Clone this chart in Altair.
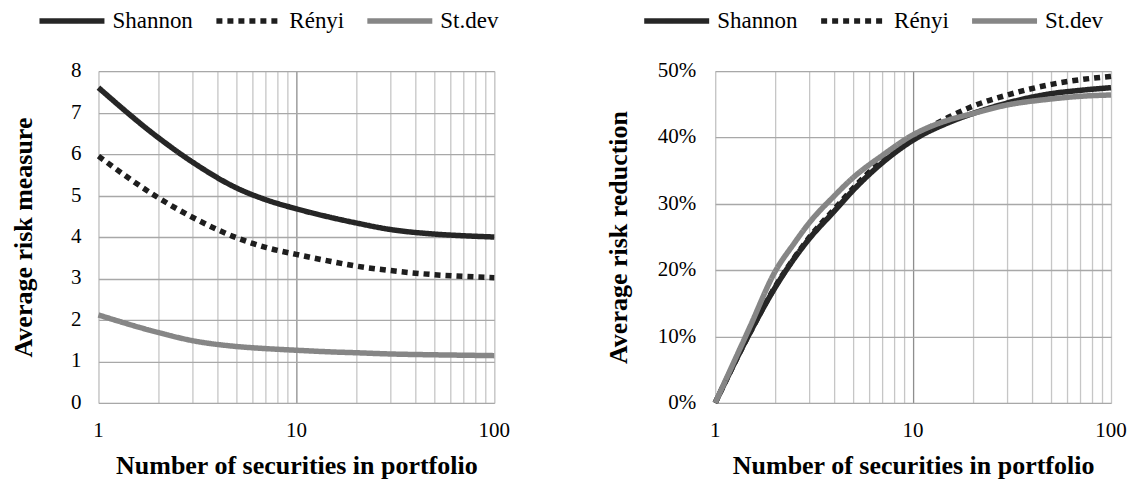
import altair as alt
import pandas as pd

# ---- data ----
series_names = ["Shannon", "Rényi", "St.dev"]
series_colors = ["#262626", "#1e1e1e", "#868686"]
series_dash = [[1, 0], [6, 5], [1, 0]]
draw_order = ["Rényi", "Shannon", "St.dev"]

left_n = [1, 2, 3, 5, 7, 10, 15, 20, 30, 50, 70, 100]
left_shannon = [7.60, 6.40, 5.80, 5.18, 4.90, 4.68, 4.47, 4.34, 4.18, 4.07, 4.03, 4.00]
left_renyi = [5.95, 4.95, 4.47, 3.98, 3.75, 3.58, 3.41, 3.30, 3.19, 3.09, 3.05, 3.02]
left_stdev = [2.12, 1.70, 1.50, 1.36, 1.31, 1.27, 1.23, 1.21, 1.18, 1.16, 1.15, 1.14]

right_n = [1, 1.5, 2, 2.5, 3, 4, 5, 7, 10, 15, 20, 30, 50, 70, 100]
right_shannon = [0, .106, .173, .217, .248, .289, .321, .362, .396, .422, .436, .452, .466, .471, .475]
right_renyi = [0, .106, .174, .218, .250, .292, .324, .366, .400, .430, .447, .464, .480, .487, .492]
right_stdev = [0, .115, .197, .240, .272, .312, .340, .373, .404, .426, .436, .449, .458, .462, .464]

x_grid_values = [1, 2, 3, 4, 5, 6, 7, 8, 9, 10, 20, 30, 40, 50, 60, 70, 80, 90, 100]
x_label_values = [1, 10, 100]
left_y_values = [0, 1, 2, 3, 4, 5, 6, 7, 8]
right_y_values = [0, 0.1, 0.2, 0.3, 0.4, 0.5]

x_title = "Number of securities in portfolio"
left_y_title = "Average risk measure"
right_y_title = "Average risk reduction"

FONT = "Liberation Serif"
W, H = 396, 332


def long_frame(n, shannon, renyi, stdev):
    vals = {"Shannon": shannon, "Rényi": renyi, "St.dev": stdev}
    rows = []
    for s in draw_order:
        for xi, yi in zip(n, vals[s]):
            rows.append({"n": xi, "value": yi, "series": s})
    return pd.DataFrame(rows)


def panel(df, y_title, y_values, y_domain, y_format, legend_x, title_pad, label_off):
    legend = alt.Legend(
        title=None, orient="none", direction="horizontal",
        legendX=legend_x, legendY=-62, padding=0, clipHeight=24,
        symbolType="stroke", symbolSize=4225, symbolStrokeWidth=5.5,
        labelFont=FONT, labelFontSize=23, labelColor="#000000",
        labelOffset=5, columnPadding=20, symbolOffset=0,
    )
    x_scale = alt.Scale(type="log", domain=[1, 100], nice=False)
    y_scale = alt.Scale(domain=y_domain, nice=False)

    lines = alt.Chart(df).mark_line(
        strokeWidth=5.5, interpolate="monotone", strokeCap="butt"
    ).encode(
        x=alt.X("n:Q", scale=x_scale,
                axis=alt.Axis(values=x_grid_values, labels=False,
                              title=x_title, titleFont=FONT, titleFontSize=26,
                              titleFontWeight="bold", titleColor="#000000",
                              titlePadding=50, ticks=False, domain=False,
                              gridColor={"condition": {"test": "datum.value == 10", "value": "#8e8e8e"},
                                         "value": "#c6c6c6"},
                              gridWidth=1.3)),
        y=alt.Y("value:Q", scale=y_scale,
                axis=alt.Axis(values=y_values, labels=False,
                              title=y_title, titleFont=FONT, titleFontSize=26,
                              titleFontWeight="bold", titleColor="#000000",
                              titlePadding=title_pad, ticks=False, domain=False,
                              gridColor="#a8a8a8", gridWidth=1.3)),
        color=alt.Color("series:N", sort=series_names,
                        scale=alt.Scale(domain=series_names, range=series_colors),
                        legend=legend),
        strokeDash=alt.StrokeDash("series:N", sort=series_names,
                                  scale=alt.Scale(domain=series_names, range=series_dash),
                                  legend=legend),
    )

    x_labels = alt.Chart(pd.DataFrame({"n": x_label_values})).mark_text(
        font=FONT, fontSize=21, color="#000000", baseline="top", align="center"
    ).encode(
        x=alt.X("n:Q", scale=x_scale),
        y=alt.value(H + 17),
        text=alt.Text("n:Q", format="d"),
    )

    y_labels = alt.Chart(pd.DataFrame({"value": y_values})).mark_text(
        font=FONT, fontSize=21, color="#000000", baseline="middle", align="right"
    ).encode(
        x=alt.value(label_off),
        y=alt.Y("value:Q", scale=y_scale),
        text=alt.Text("value:Q", format=y_format),
    )

    return alt.layer(lines, x_labels, y_labels).properties(width=W, height=H)


left_df = long_frame(left_n, left_shannon, left_renyi, left_stdev)
right_df = long_frame(right_n, right_shannon, right_renyi, right_stdev)

left = panel(left_df, left_y_title, left_y_values, [0, 8], "d", -62, 62, -17)
right = panel(right_df, right_y_title, right_y_values, [0, 0.5], ".0%", -74, 84, -19)

chart = alt.hconcat(left, right, spacing=93).resolve_scale(
    color="independent", strokeDash="independent"
).resolve_legend(
    color="independent", strokeDash="independent"
).properties(
    padding={"left": 1.5, "top": 0, "right": 0, "bottom": 0}
).configure_view(
    stroke="#a0a0a0", strokeWidth=1.3
).configure(background="#ffffff", font=FONT)

chart.save("out.html", embed_options={"renderer": "svg", "actions": False})
